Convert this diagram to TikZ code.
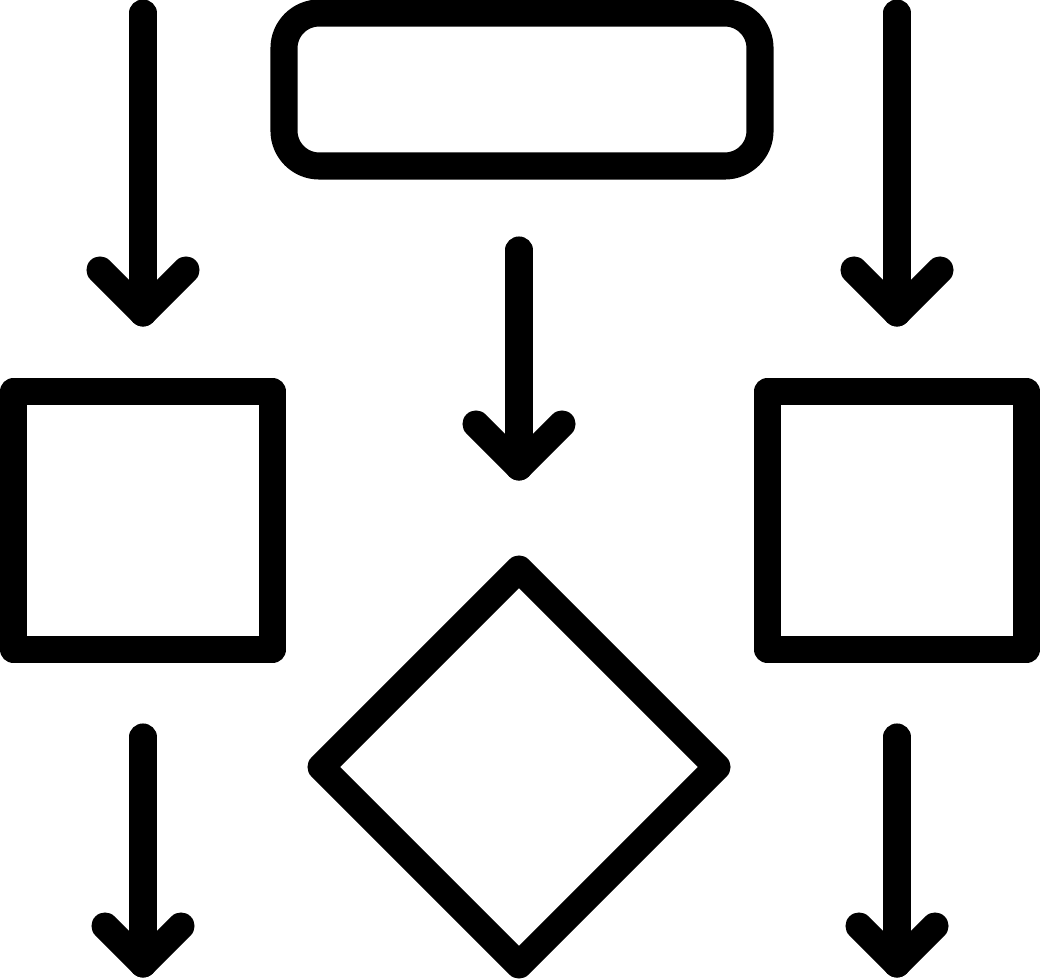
\documentclass[tikz,border=0pt]{standalone}
\usepackage{tikz}
\tikzset{every path/.style={line width=7.7pt, line cap=round, line join=round}}

% down arrow: x, top of shaft, tip, half width of head
\newcommand{\downarr}[4]{%
  \draw (#1,#2) -- (#1,#3);
  \draw (#1-#4,#3-#4) -- (#1,#3) -- (#1+#4,#3-#4);
}

\begin{document}
\begin{tikzpicture}[x=0.01cm,y=-0.01cm]
\useasboundingbox (0,0) rectangle (1040,980);
% top box
\draw[rounded corners=10pt] (284,13) rectangle (760,166);
% side boxes
\draw (13.5,391.5) rectangle (272.5,649.5);
\draw (767.5,391.5) rectangle (1026.5,649.5);
% decision
\draw (519,569) -- (717,767) -- (519,965) -- (321,767) -- cycle;
% arrows
\downarr{143}{13}{313}{43}
\downarr{897}{13}{313}{43}
\downarr{519}{250}{467}{43}
\downarr{143}{737}{964}{38}
\downarr{897}{737}{964}{38}
\end{tikzpicture}
\end{document}
